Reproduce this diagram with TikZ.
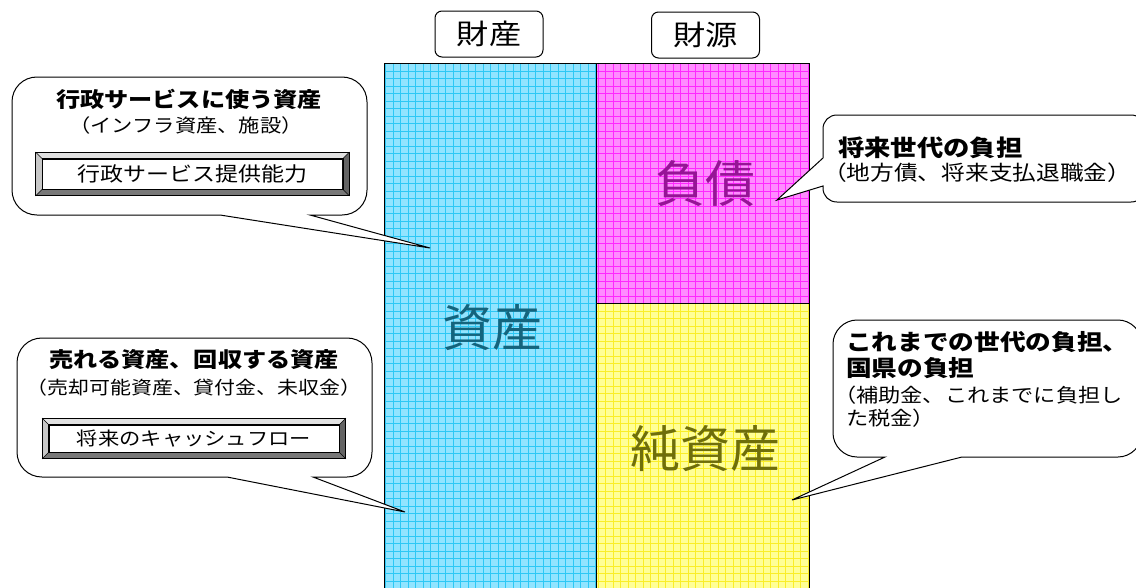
\documentclass[tikz,border=0pt]{standalone}
\usepackage{fontspec}
\setmainfont[FakeStretch=1.15]{Noto Sans CJK JP}
\newfontfamily\bigjp{Noto Sans CJK JP}
\usetikzlibrary{calc}
\definecolor{cyanfill}{RGB}{145,228,255}
\definecolor{cyanline}{RGB}{45,200,245}
\definecolor{magfill}{RGB}{255,140,255}
\definecolor{magline}{RGB}{255,40,255}
\definecolor{yelfill}{RGB}{255,255,150}
\definecolor{yelline}{RGB}{250,238,40}
\definecolor{asstxt}{RGB}{20,100,125}
\definecolor{debttxt}{RGB}{150,20,150}
\definecolor{nettxt}{RGB}{110,110,10}
\definecolor{bevlight}{RGB}{225,225,225}
\definecolor{bevmid}{RGB}{200,200,200}
\definecolor{bevdark}{RGB}{120,120,120}
\definecolor{bevdarker}{RGB}{100,100,100}
\tikzset{
  cell/.style={draw=black, line width=1.2pt, anchor=north west, inner sep=0pt},
  gridded/.style={path picture={\draw[#1, line width=0.6pt] (path picture bounding box.south west) grid[step=7.5pt] (path picture bounding box.north east);}},
  bigtxt/.style={inner sep=0pt, font=\bigjp\fontsize{50}{50}\selectfont},
  hdr/.style={draw, line width=1pt, rounded corners=7pt, minimum width=108pt, minimum height=46pt, inner sep=0pt, font=\fontsize{28}{28}\selectfont},
  balloon/.style={draw=black, fill=white, line width=1pt, line join=miter},
  ttl/.style={inner sep=0pt, font=\bfseries\fontsize{#1}{#1}\selectfont},
  txt/.style={inner sep=0pt, font=\fontsize{#1}{#1}\selectfont},
  bevinner/.style={draw=black, fill=white, line width=0.8pt, inner sep=0pt},
}
\newcommand\bevframe[2]{%
  \path (#1.north west) ++(-#2,-#2) coordinate (#1-onw)
        (#1.north east) ++(#2,-#2) coordinate (#1-one)
        (#1.south east) ++(#2,#2) coordinate (#1-ose)
        (#1.south west) ++(-#2,#2) coordinate (#1-osw);
  \fill[bevlight] (#1-onw) -- (#1-one) -- (#1.north east) -- (#1.north west) -- cycle;
  \fill[bevmid] (#1-onw) -- (#1.north west) -- (#1.south west) -- (#1-osw) -- cycle;
  \fill[bevdark] (#1-osw) -- (#1.south west) -- (#1.south east) -- (#1-ose) -- cycle;
  \fill[bevdarker] (#1-one) -- (#1-ose) -- (#1.south east) -- (#1.north east) -- cycle;
  \draw[line width=0.6pt] (#1-onw) -- (#1.north west) (#1-one) -- (#1.north east)
        (#1-ose) -- (#1.south east) (#1-osw) -- (#1.south west);
  \draw[line width=1pt] (#1-onw) rectangle (#1-ose);
  \draw[line width=0.8pt] (#1.north west) rectangle (#1.south east);
}
\begin{document}
\begin{tikzpicture}[x=1pt,y=-1pt]
\useasboundingbox (0,0) rectangle (1136,587);
\clip (0,0) rectangle (1136,587);
\fill[white] (0,0) rectangle (1136,587);

% balance sheet cells
\node[cell, fill=cyanfill, gridded=cyanline, minimum width=212pt, minimum height=540pt] (assets) at (384,63) {};
\node[cell, fill=magfill, gridded=magline, minimum width=213pt, minimum height=240pt] (debt) at (596,63) {};
\node[cell, fill=yelfill, gridded=yelline, minimum width=213pt, minimum height=300pt] (net) at (596,303) {};

\node[bigtxt, text=asstxt] (assetlbl) at (492,328) {資産};
\node[bigtxt, text=debttxt] (debtlbl) at (705,184) {負債};
\node[bigtxt, text=nettxt] (netlbl) at (705,449) {純資産};

% headers
\node[hdr] (zaisan) at (489,34) {財産};
\node[hdr] (zaigen) at (705.5,35) {財源};

% tips
\coordinate (tipA) at (430,248);
\coordinate (tipB) at (405,512);
\coordinate (tipC) at (777,200);
\coordinate (tipD) at (792,500);

% left top balloon
\path[balloon] (37,77) -- (342,77) .. controls (356,77) and (367,88) .. (367,102)
  -- (367,190) .. controls (367,204) and (356,215) .. (342,215)
  -- (310,215) -- (tipA) -- (220,215)
  -- (37,215) .. controls (23,215) and (12,204) .. (12,190)
  -- (12,102) .. controls (12,88) and (23,77) .. (37,77) -- cycle;
\node[ttl=21] (t1) at (189,99) {行政サービスに使う資産};
\node[txt=18.5] (t2) at (186,125) {（インフラ資産、施設）};
\node[bevinner, txt=20, minimum width=300pt, minimum height=30pt] (svc) at (192.5,174) {行政サービス提供能力};
\bevframe{svc}{6.5}

% left bottom balloon
\path[balloon] (42,338) -- (347,338) .. controls (361,338) and (372,349) .. (372,363)
  -- (372,452) .. controls (372,466) and (361,477) .. (347,477)
  -- (313,477) -- (tipB) -- (227,477)
  -- (42,477) .. controls (28,477) and (17,466) .. (17,452)
  -- (17,363) .. controls (17,349) and (28,338) .. (42,338) -- cycle;
\node[ttl=21] (b1) at (194,360) {売れる資産、回収する資産};
\node[txt=18.2] (b2) at (194,388) {（売却可能資産、貸付金、未収金）};
\node[bevinner, txt=18.5, minimum width=290pt, minimum height=27pt] (cash) at (194,438.5) {将来のキャッシュフロー};
\bevframe{cash}{6.5}

% right top balloon
\path[balloon] (837,115) -- (1131,115) .. controls (1139,115) and (1145,121) .. (1145,129)
  -- (1145,188) .. controls (1145,196) and (1139,202) .. (1131,202)
  -- (837,202) .. controls (829,202) and (823,196) .. (823,188)
  -- (823,186) -- (tipC) -- (823,158)
  -- (823,129) .. controls (823,121) and (829,115) .. (837,115) -- cycle;
\node[ttl=22.9, anchor=west] (r1) at (838,148) {将来世代の負担};
\node[txt=20.6, anchor=west] (r2) at (823,173) {（地方債、将来支払退職金）};

% right bottom balloon
\path[balloon] (857,320) -- (1118,320) .. controls (1131,320) and (1142,331) .. (1142,344)
  -- (1142,433) .. controls (1142,446) and (1131,457) .. (1118,457)
  -- (962,457) -- (tipD) -- (885,457)
  -- (857,457) .. controls (844,457) and (833,446) .. (833,433)
  -- (833,344) .. controls (833,331) and (844,320) .. (857,320) -- cycle;
\node[ttl=22.3, anchor=west] (s1) at (846,342) {これまでの世代の負担、};
\node[ttl=22.3, anchor=west] (s2) at (846,368) {国県の負担};
\node[txt=19.3, anchor=west] (s3) at (834,395) {（補助金、これまでに負担し};
\node[txt=19.3, anchor=west] (s4) at (846,418) {た税金）};
\end{tikzpicture}
\end{document}
